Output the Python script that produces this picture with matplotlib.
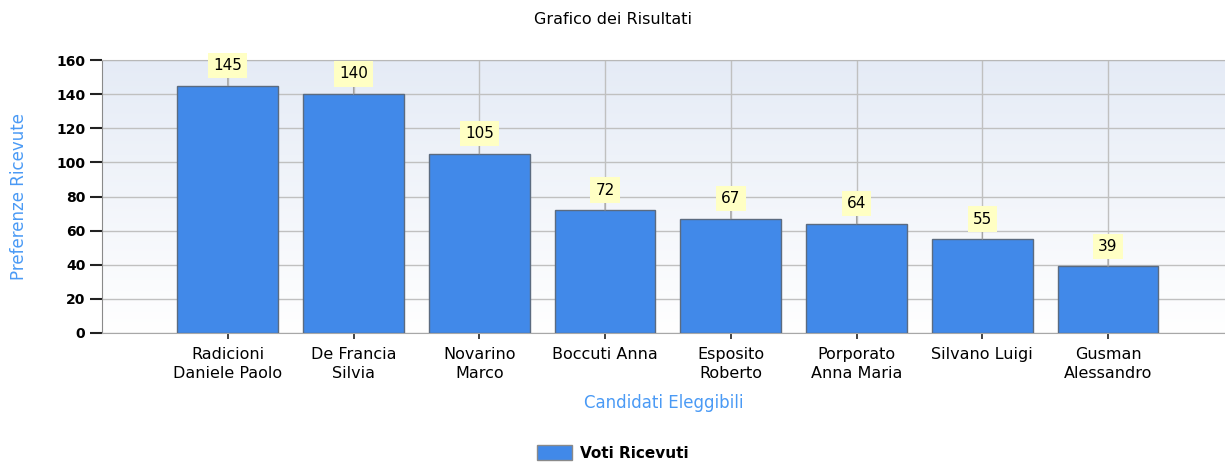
import numpy as np
import matplotlib
matplotlib.use('Agg')
import matplotlib.pyplot as plt
from matplotlib.patches import Patch

plt.rcParams['font.family'] = ['DejaVu Sans']

candidati = ['Radicioni\nDaniele Paolo', 'De Francia\nSilvia', 'Novarino\nMarco',
             'Boccuti Anna', 'Esposito\nRoberto', 'Porporato\nAnna Maria',
             'Silvano Luigi', 'Gusman\nAlessandro']
voti = [145, 140, 105, 72, 67, 64, 55, 39]
yticks = [0, 20, 40, 60, 80, 100, 120, 140, 160]

fig = plt.figure(figsize=(12.25, 4.63), dpi=100)
ax = fig.add_axes([102/1225, 130/463, 1 - 102/1225, 273/463])

x = np.arange(len(candidati))
ax.set_xlim(-1, 7.93)
ax.set_ylim(0, 160)

# gradient background
grad = np.linspace(0, 1, 256).reshape(-1, 1)
top = np.array([0.898, 0.922, 0.965])
bot = np.array([1.0, 1.0, 1.0])
img = top[None, None, :] * (1 - grad[:, :, None]) + bot[None, None, :] * grad[:, :, None]
ax.imshow(img, extent=[-1, 7.93, 0, 160], aspect='auto', origin='upper', zorder=0)

ax.grid(True, color='#c0c0c0', lw=1, zorder=1)
ax.set_axisbelow(True)

ax.bar(x, voti, width=0.8, color='#4189e9', edgecolor='#5b6b80', lw=1, zorder=3)

for xi, v in zip(x, voti):
    ax.annotate(str(v), xy=(xi, v), xytext=(0, 14.5), textcoords='offset points',
                ha='center', va='center', fontsize=11, zorder=5,
                bbox=dict(boxstyle='square,pad=0.33', fc='#ffffc4', ec='none'),
                arrowprops=dict(arrowstyle='-', color='#a0a0a0', lw=0.8, shrinkA=0, shrinkB=0))

ax.set_xticks(x)
ax.set_xticklabels(candidati, fontsize=11.5, linespacing=1.35)
ax.set_yticks(yticks)
ax.tick_params(axis='y', labelsize=10, length=9, width=1.5, color='#222222', pad=3)
ax.tick_params(axis='x', length=4, width=1.2, color='#222222', pad=6)
for lab in ax.get_yticklabels():
    lab.set_fontweight('bold')

ax.spines['left'].set_color('#8a8a8a')
ax.spines['bottom'].set_color('#a8a8a8')
ax.spines['top'].set_color('#b8b8b8')
ax.spines['right'].set_visible(False)

ax.set_xlabel('Candidati Eleggibili', color='#4a9af5', fontsize=12, labelpad=9)
ax.set_ylabel('Preferenze Ricevute', color='#4a9af5', fontsize=12, labelpad=20)

fig.text(0.5, 1 - 20/463, 'Grafico dei Risultati', ha='center', va='center', fontsize=11.5)

fig.legend(handles=[Patch(fc='#4189e9', ec='#8a8a8a', label='Voti Ricevuti')],
           loc='center', bbox_to_anchor=(0.5, 1 - 453/463), frameon=False,
           prop={'weight': 'bold', 'size': 11}, handlelength=2.3, handleheight=1.1,
           handletextpad=0.5)

fig.savefig('out.png', dpi=100)
